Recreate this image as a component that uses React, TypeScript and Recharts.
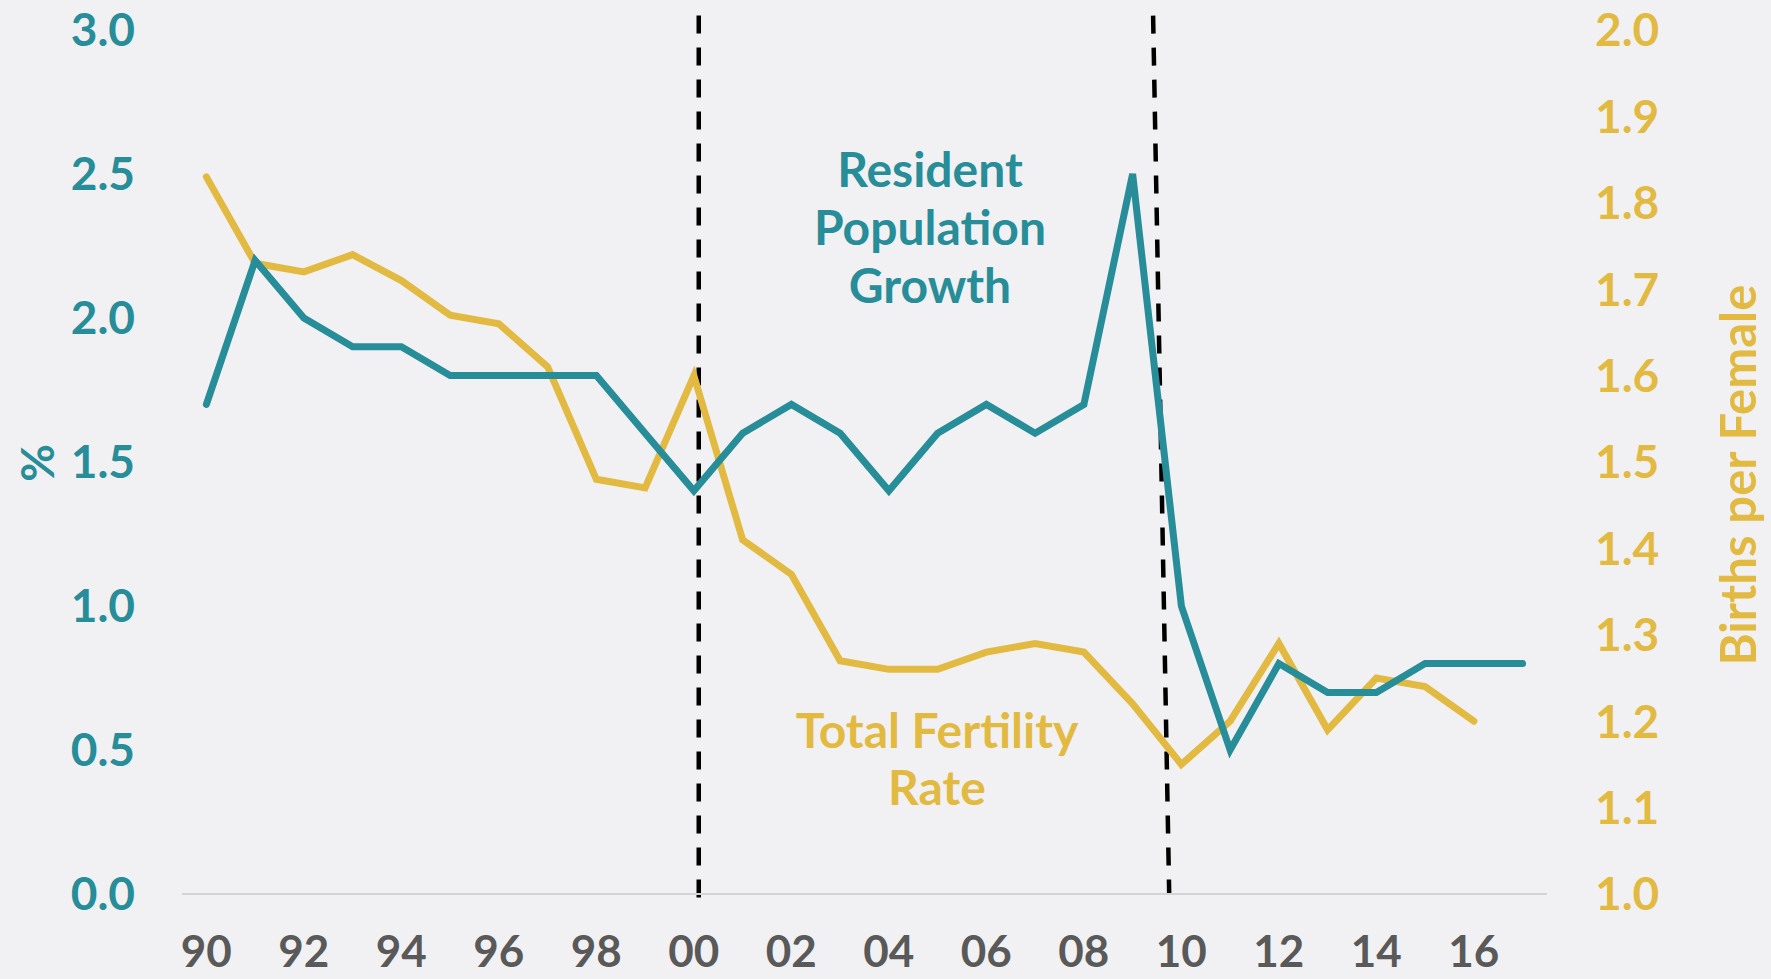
import { LineChart, Line, XAxis, YAxis, ReferenceLine, Customized } from 'recharts';

const years = [
  1990, 1991, 1992, 1993, 1994, 1995, 1996, 1997, 1998, 1999, 2000, 2001, 2002, 2003,
  2004, 2005, 2006, 2007, 2008, 2009, 2010, 2011, 2012, 2013, 2014, 2015, 2016, 2017,
];

// resident population growth, % (left axis)
const popGrowth = [
  1.7, 2.2, 2.0, 1.9, 1.9, 1.8, 1.8, 1.8, 1.8, 1.6, 1.4, 1.6, 1.7, 1.6,
  1.4, 1.6, 1.7, 1.6, 1.7, 2.5, 1.0, 0.5, 0.8, 0.7, 0.7, 0.8, 0.8, 0.8,
];

// total fertility rate, births per female (right axis)
const fertility = [
  1.83, 1.73, 1.72, 1.74, 1.71, 1.67, 1.66, 1.61, 1.48, 1.47, 1.6, 1.41, 1.37, 1.27,
  1.26, 1.26, 1.28, 1.29, 1.28, 1.22, 1.15, 1.2, 1.29, 1.19, 1.25, 1.24, 1.2, null,
];

const xTicks = [1990, 1992, 1994, 1996, 1998, 2000, 2002, 2004, 2006, 2008, 2010, 2012, 2014, 2016];
const leftTicks = [0, 0.5, 1.0, 1.5, 2.0, 2.5, 3.0];
const rightTicks = [1.0, 1.1, 1.2, 1.3, 1.4, 1.5, 1.6, 1.7, 1.8, 1.9, 2.0];

const TEAL = '#268D99';
const GOLD = '#E2BA42';
const GREY = '#595959';
const FONT = 'Lato, "Open Sans", sans-serif';

const data = years.map((year, i) => ({ year, growth: popGrowth[i], tfr: fertility[i] }));

function Annotations() {
  return (
    <g fontFamily={FONT} fontWeight={700} textAnchor="middle">
      <text x={930} y={187} fontSize={48} fill={TEAL}>Resident</text>
      <text x={930} y={245} fontSize={48} fill={TEAL}>Population</text>
      <text x={930} y={303} fontSize={48} fill={TEAL}>Growth</text>
      <text x={937} y={748} fontSize={48} fill={GOLD}>Total Fertility</text>
      <text x={937} y={805} fontSize={48} fill={GOLD}>Rate</text>
      <text x={36} y={463} fontSize={46} fill={TEAL} transform="rotate(-90 36 463)" dominantBaseline="central">%</text>
      <text x={1737} y={475} fontSize={49} fill={GOLD} transform="rotate(-90 1737 475)" dominantBaseline="central">Births per Female</text>
    </g>
  );
}

export default function App() {
  return (
    <div style={{ position: 'absolute', left: 0, top: 0, width: 1771, height: 979, background: '#F1F1F3' }}>
      <LineChart width={1771} height={979} data={data} margin={{ top: 30, right: 0, bottom: 0, left: 0 }}>
        <XAxis
          dataKey="year"
          type="number"
          domain={[1989.5, 2017.5]}
          ticks={xTicks}
          tickFormatter={(v) => String(v % 100).padStart(2, '0')}
          height={85}
          axisLine={{ stroke: '#D4D4D6', strokeWidth: 2 }}
          tickLine={false}
          tickSize={0}
          tickMargin={42}
          tick={{ fill: GREY, fontSize: 44, fontWeight: 700, fontFamily: FONT }}
        />
        <YAxis
          yAxisId="left"
          domain={[0, 3]}
          ticks={leftTicks}
          tickFormatter={(v) => v.toFixed(1)}
          width={182}
          axisLine={false}
          tickLine={false}
          tickSize={0}
          tickMargin={47}
          tick={{ fill: TEAL, fontSize: 46, fontWeight: 700, fontFamily: FONT }}
        />
        <YAxis
          yAxisId="right"
          orientation="right"
          domain={[1, 2]}
          ticks={rightTicks}
          tickFormatter={(v) => v.toFixed(1)}
          width={224}
          axisLine={false}
          tickLine={false}
          tickSize={0}
          tickMargin={48}
          tick={{ fill: GOLD, fontSize: 46, fontWeight: 700, fontFamily: FONT }}
        />
        <ReferenceLine
          yAxisId="left"
          segment={[{ x: 2000.1, y: 3.05 }, { x: 2000.1, y: -0.035 }]}
          stroke="#000"
          strokeWidth={4.5}
          strokeDasharray="18 14"
          ifOverflow="visible"
        />
        <ReferenceLine
          yAxisId="left"
          segment={[{ x: 2009.42, y: 3.05 }, { x: 2009.75, y: 0.0 }]}
          stroke="#000"
          strokeWidth={4.5}
          strokeDasharray="18 14"
          ifOverflow="visible"
        />
        <Line
          yAxisId="right"
          type="linear"
          dataKey="tfr"
          stroke={GOLD}
          strokeWidth={7}
          strokeLinecap="round"
          dot={false}
          isAnimationActive={false}
        />
        <Line
          yAxisId="left"
          type="linear"
          dataKey="growth"
          stroke={TEAL}
          strokeWidth={7}
          strokeLinecap="round"
          dot={false}
          isAnimationActive={false}
        />
        <Customized component={Annotations} />
      </LineChart>
    </div>
  );
}
